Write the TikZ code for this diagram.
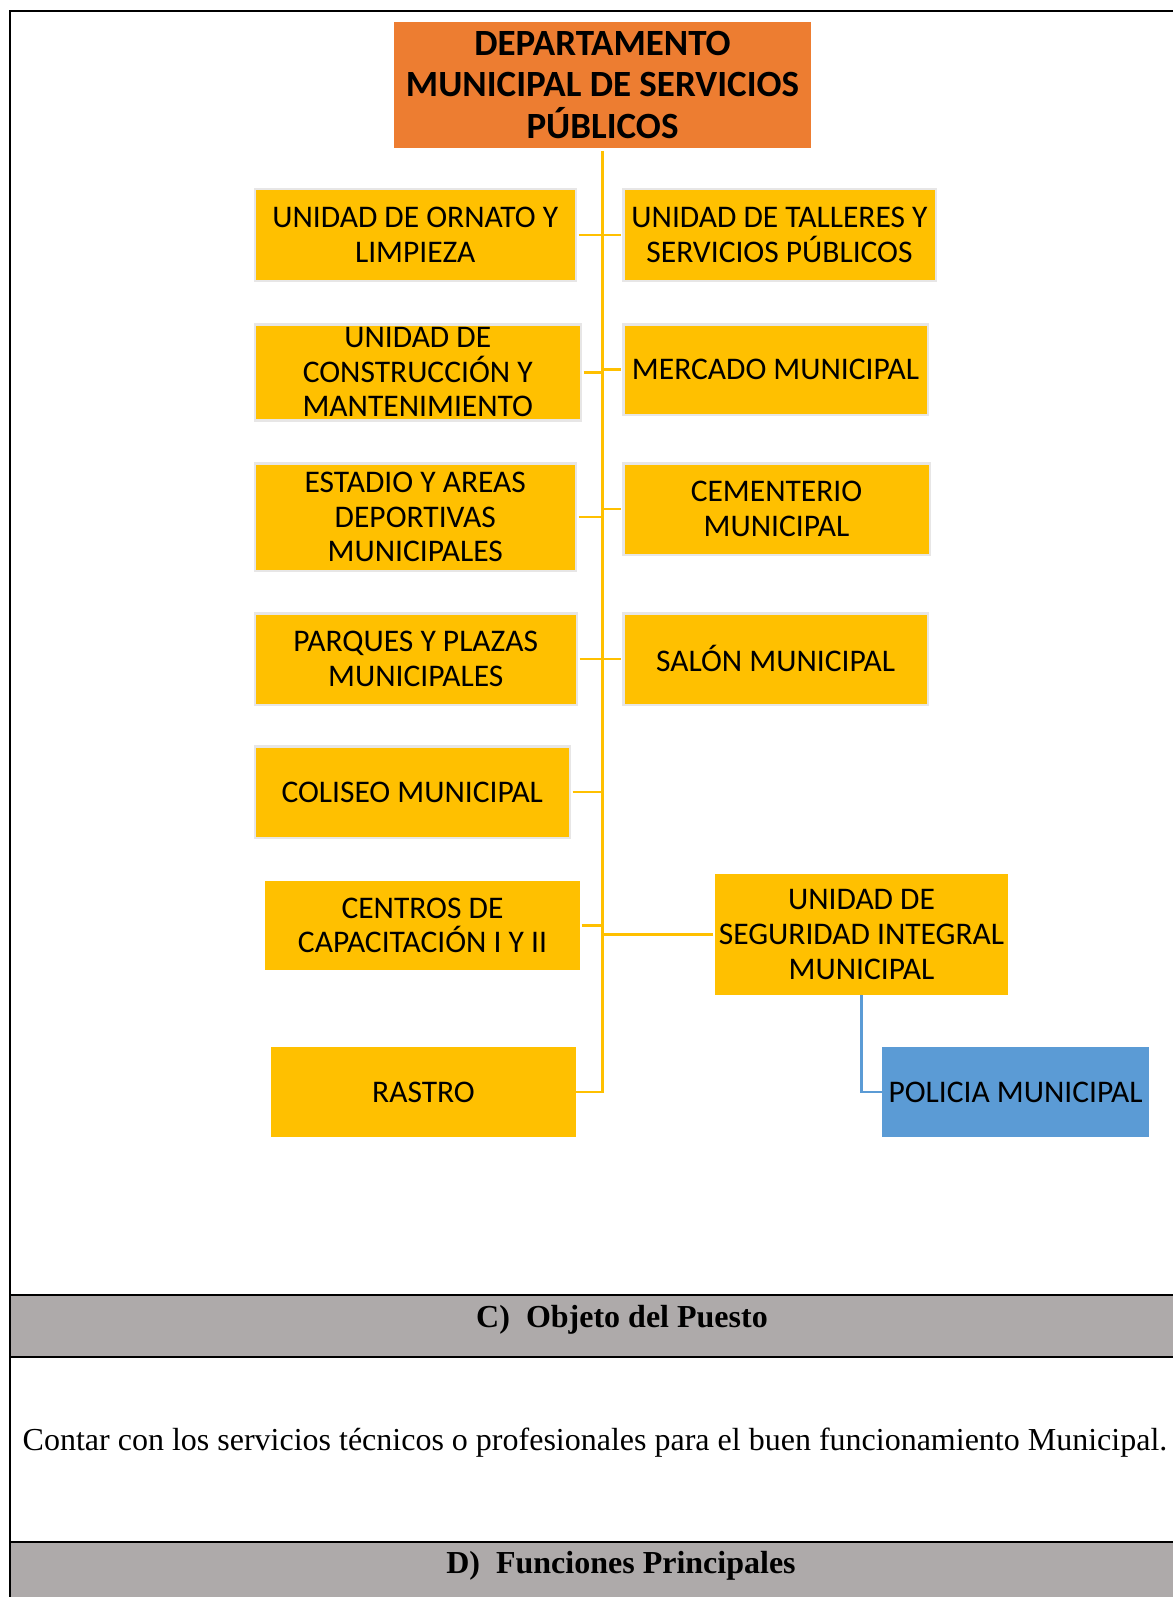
\documentclass[tikz,border=0pt]{standalone}
\usepackage{fontspec}
\setmainfont{Carlito}
\newfontfamily\timesfont{Liberation Serif}
\definecolor{deptorange}{RGB}{237,125,49}
\definecolor{unityellow}{RGB}{255,192,0}
\definecolor{policeblue}{RGB}{91,155,213}
\definecolor{bandgray}{RGB}{174,170,170}
\definecolor{edgegray}{RGB}{231,230,230}

\begin{document}
\begin{tikzpicture}[x=1pt,y=-1pt,
    unitbox/.style={fill=unityellow,inner sep=0pt,align=center,
                    font=\fontsize{31.5}{34.6}\selectfont},
    edged/.style={draw=edgegray,line width=2.5pt},
    link/.style={draw=unityellow,line width=2.8pt},
    bandtext/.style={anchor=base,font=\timesfont\bfseries\fontsize{32}{38}\selectfont}]
      \useasboundingbox (0,0) rectangle (1172,1597);

      % head of the department
      \node[fill=deptorange,inner sep=0pt,align=center,
            minimum width=417pt,minimum height=126pt,
            font=\bfseries\fontsize{37}{41.7}\selectfont]
        (dept) at (602.5,85)
        {DEPARTAMENTO\\MUNICIPAL DE SERVICIOS\\PÚBLICOS};

      % left column
      \node[unitbox,edged,minimum width=321pt,minimum height=91.5pt]
        (ornato) at (415.25,235) {UNIDAD DE ORNATO Y\\LIMPIEZA};
      \node[unitbox,edged,minimum width=326pt,minimum height=96pt]
        (construccion) at (417.75,372.25) {UNIDAD DE\\CONSTRUCCIÓN Y\\MANTENIMIENTO};
      \node[unitbox,edged,minimum width=321pt,minimum height=107.5pt]
        (estadio) at (415.25,517) {ESTADIO Y AREAS\\DEPORTIVAS\\MUNICIPALES};
      \node[unitbox,edged,minimum width=322pt,minimum height=91.5pt]
        (parques) at (415.75,659) {PARQUES Y PLAZAS\\MUNICIPALES};
      \node[unitbox,edged,minimum width=315pt,minimum height=91.5pt]
        (coliseo) at (412.25,792) {COLISEO MUNICIPAL};
      \node[unitbox,minimum width=315pt,minimum height=89pt]
        (centros) at (422.5,925.5) {CENTROS DE\\CAPACITACIÓN I Y II};
      \node[unitbox,minimum width=305pt,minimum height=90pt]
        (rastro) at (423.5,1092) {RASTRO};

      % right column
      \node[unitbox,edged,minimum width=312.5pt,minimum height=91.5pt]
        (talleres) at (779.5,235) {UNIDAD DE TALLERES Y\\SERVICIOS PÚBLICOS};
      \node[unitbox,edged,minimum width=304.5pt,minimum height=90.5pt]
        (mercado) at (775.5,369.5) {MERCADO MUNICIPAL};
      \node[unitbox,edged,minimum width=306.5pt,minimum height=91.5pt]
        (cementerio) at (776.5,509) {CEMENTERIO\\MUNICIPAL};
      \node[unitbox,edged,minimum width=304.5pt,minimum height=91.5pt,
            text depth=2pt]
        (salon) at (775.5,659) {SALÓN MUNICIPAL};
      \node[unitbox,minimum width=293pt,minimum height=121pt]
        (seguridad) at (861.5,934.5) {UNIDAD DE\\SEGURIDAD INTEGRAL\\MUNICIPAL};
      \node[unitbox,fill=policeblue,minimum width=267pt,minimum height=90pt]
        (policia) at (1015.5,1092) {POLICIA MUNICIPAL};

      % connectors
      \draw[link,shorten <=3pt] (dept.south) |- (rastro.east);
      \foreach \u in {ornato,construccion,estadio,parques,coliseo,centros}
        \draw[link,shorten <=1.5pt] (\u.east) -- (\u.east -| dept.south);
      \foreach \u in {talleres,mercado,cementerio,salon,seguridad}
        \draw[link,shorten <=1.5pt] (\u.west) -- (\u.west -| dept.south);
      \draw[draw=policeblue,line width=2.5pt] (seguridad.south) |- (policia.west);

      % table below the chart
      \draw[line width=1.3pt,fill=bandgray] (9.5,1295) rectangle (1185,1357);
      \draw[line width=1.3pt,fill=bandgray] (9.5,1542) rectangle (1185,1610);
      \draw[line width=2pt] (1185,11) -- (9.5,11) -- (9.5,1610);

      \node[bandtext] (objeto) at (622,1327) {C)\hspace{0.5em}Objeto del Puesto};
      \node[anchor=base,font=\timesfont\fontsize{32}{38}\selectfont]
        (objetotext) at (595,1450)
        {Contar con los servicios técnicos o profesionales para el buen funcionamiento Municipal.};
      \node[bandtext] (funciones) at (621,1573) {D)\hspace{0.5em}Funciones Principales};
    \end{tikzpicture}
\end{document}
